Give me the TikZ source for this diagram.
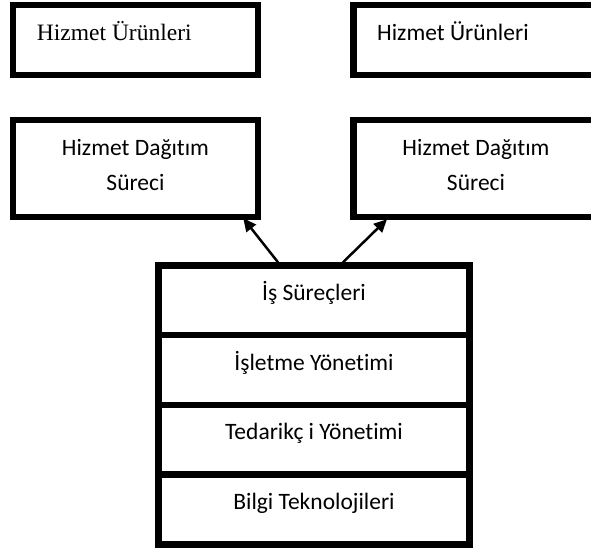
\documentclass[tikz,border=0pt]{standalone}
\usepackage{fontspec}
\setmainfont{Carlito}[RawFeature={-liga}]
\newfontfamily\serifface{Liberation Serif}
\usetikzlibrary{arrows.meta,calc}

\tikzset{
  frame/.style={draw=black, line width=6.5pt, fill=white, inner sep=0pt},
  topbox/.style={frame, minimum width=245pt, minimum height=70pt},
  midbox/.style={frame, minimum width=245pt, minimum height=97pt},
  widebox/.style={minimum width=400pt},
  layer/.style={frame, minimum width=311pt, minimum height=69.75pt},
  lbl/.style={inner sep=0pt, font=\fontsize{23.5}{35}\selectfont},
  link/.style={draw=black, line width=2.5pt, -{Triangle[length=13pt,width=12pt]}}
}

\begin{document}
\begin{tikzpicture}[x=1pt, y=-1pt]
  \useasboundingbox (0,0) rectangle (591,550);
  % the right-hand boxes run past the page edge
  \clip (0,0) rectangle (591,550);

  % product boxes
  \node[topbox] (pl) at (135.5,40) {};
  \node[topbox, widebox] (pr) at (553.25,40) {};
  \node[lbl, anchor=base west] (plt) at ($(pl.west)+(27,0)$) {\serifface Hizmet Ürünleri};
  \node[lbl, anchor=base west] (prt) at ($(pr.west)+(27,0)$) {Hizmet Ürünleri};

  % delivery process boxes
  \node[midbox] (dl) at (135.5,168.5) {};
  \node[midbox, widebox] (dr) at (553.25,168.5) {};
  \node[lbl, align=center, anchor=base] (dlt) at ($(dl.center)+(0,21.5)$) {Hizmet Dağıtım\\Süreci};
  \node[lbl, align=center, anchor=base] (drt) at ($(dr.west)+(126,21.5)$) {Hizmet Dağıtım\\Süreci};

  % layered stack
  \node[layer] (is) at (314,300.4) {};
  \node[layer] (iy) at (314,370.1) {};
  \node[layer] (ty) at (314,439.9) {};
  \node[layer] (bt) at (314,509.6) {};
  \node[lbl, anchor=base] at (is.center) {İş Süreçleri};
  \node[lbl, anchor=base] at (iy.center) {İşletme Yönetimi};
  \node[lbl, anchor=base] at (ty.center) {Tedarikç i Yönetimi};
  \node[lbl, anchor=base] at (bt.center) {Bilgi Teknolojileri};

  % arrows from the stack to the delivery boxes
  \draw[link] ($(is.north)+(-36,0)$) -- ($(dl.south east)+(-18,-2)$);
  \draw[link] ($(is.north)+(29,0)$) -- ($(dr.south west)+(37,-1)$);
\end{tikzpicture}
\end{document}
